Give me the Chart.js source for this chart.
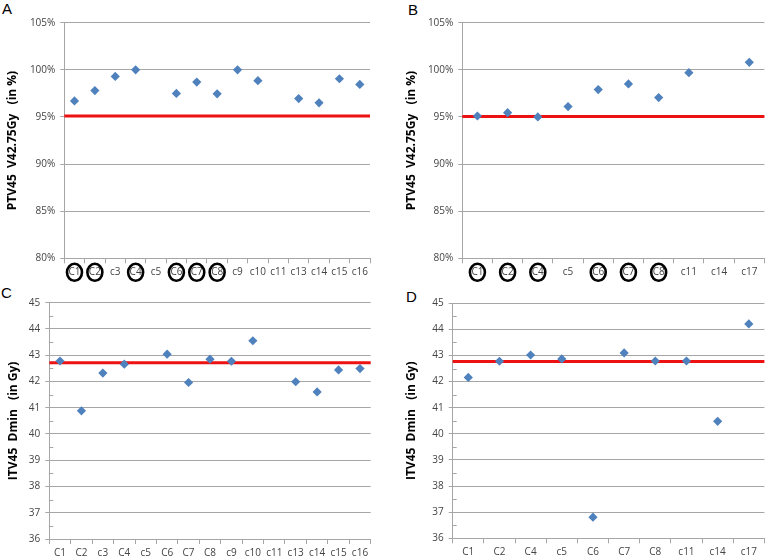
<!DOCTYPE html>
<html>
<head>
<meta charset="utf-8">
<script src="https://cdn.jsdelivr.net/npm/chart.js@4"></script>
<style>
  body { margin: 0; background: #fff; width: 769px; height: 560px; position: relative; overflow: hidden; }
  .panel { position: absolute; }
  .letter { position: absolute; font: 15px "Liberation Sans", Arial, sans-serif; color: #000; line-height: 17px; }
</style>
</head>
<body>
<div class="letter" style="left:2px;top:0px">A</div>
<div class="letter" style="left:408px;top:1px">B</div>
<div class="letter" style="left:1px;top:284px">C</div>
<div class="letter" style="left:406px;top:288px">D</div>
<div class="panel" style="left:0;top:0;width:385px;height:285px"><canvas id="chartA"></canvas></div>
<div class="panel" style="left:385px;top:0;width:384px;height:285px"><canvas id="chartB"></canvas></div>
<div class="panel" style="left:0;top:285px;width:385px;height:275px"><canvas id="chartC"></canvas></div>
<div class="panel" style="left:385px;top:285px;width:384px;height:275px"><canvas id="chartD"></canvas></div>
<script>
// categories (left column: 15 cases, right column: 10 cases)
const casesLeft = ['C1', 'C2', 'c3', 'C4', 'c5', 'C6', 'C7', 'C8', 'c9', 'c10', 'c11', 'c13', 'c14', 'c15', 'c16'];
const casesRight = ['C1', 'C2', 'C4', 'c5', 'C6', 'C7', 'C8', 'c11', 'c14', 'c17'];
const circledCases = ['C1', 'C2', 'C4', 'C6', 'C7', 'C8'];

// A: PTV45 V42.75Gy (%)
const ptvA = [96.7, 97.8, 99.3, 100.0, null, 97.5, 98.7, 97.45, 100.0, 98.85, null, 96.95, 96.5, 99.05, 98.45];
// B: PTV45 V42.75Gy (%)
const ptvB = [95.1, 95.45, 95.0, 96.1, 97.9, 98.5, 97.05, 99.7, null, 100.8];
// C: ITV45 Dmin (Gy)
const itvC = [42.78, 40.88, 42.32, 42.66, null, 43.04, 41.96, 42.85, 42.77, 43.55, null, 41.99, 41.6, 42.44, 42.49];
// D: ITV45 Dmin (Gy)
const itvD = [42.16, 42.78, 43.02, 42.87, 36.81, 43.1, 42.79, 42.79, 40.48, 44.21];

// reference lines
const refA = 95.1, refB = 95.05, refC = 42.71, refD = 42.77;

const BLUE = '#4f81bd';
const RED = '#ee1111';
const GRID = '#a6a6a6';
const TXT = '#444';
const FONT = '"Open Sans", "Noto Sans", sans-serif';

// black rings round the circled case labels
const ringPlugin = {
  id: 'rings',
  afterDraw(chart, args, opts) {
    if (!opts.names) return;
    const xs = chart.scales.x;
    const ctx = chart.ctx;
    ctx.save();
    ctx.strokeStyle = '#000';
    ctx.lineWidth = 2.6;
    xs.ticks.forEach((t, i) => {
      const name = chart.data.labels[i];
      if (!opts.names.includes(name)) return;
      const x = xs.getPixelForTick(i);
      const y = xs.top + 14;
      ctx.beginPath();
      ctx.ellipse(x, y, 7.5, 8.5, 0, 0, Math.PI * 2);
      ctx.stroke();
    });
    ctx.restore();
  }
};

// small inner minor ticks on the y axis
const minorPlugin = {
  id: 'minor',
  afterDraw(chart, args, opts) {
    if (!opts.step) return;
    const ys = chart.scales.y;
    const ctx = chart.ctx;
    ctx.save();
    ctx.strokeStyle = GRID;
    ctx.lineWidth = 1;
    for (let v = ys.min + opts.step; v < ys.max; v += opts.step * 2) {
      const y = Math.round(ys.getPixelForValue(v)) + 0.5;
      ctx.beginPath();
      ctx.moveTo(chart.chartArea.left, y);
      ctx.lineTo(chart.chartArea.left + 4, y);
      ctx.stroke();
    }
    ctx.restore();
  }
};

function makeChart(id, cfg) {
  new Chart(document.getElementById(id), {
    data: {
      labels: cfg.labels,
      datasets: [
        {
          type: 'line', data: cfg.values, showLine: false,
          pointStyle: 'rectRot', pointRadius: 4.6, pointBackgroundColor: BLUE, pointBorderColor: BLUE,
          pointBorderWidth: 0, order: 1
        },
        {
          type: 'line', data: [cfg.ref, cfg.ref], xAxisID: 'x2',
          borderColor: RED, borderWidth: 3, pointRadius: 0, order: 2
        }
      ]
    },
    options: {
      responsive: true,
      maintainAspectRatio: false,
      animation: false,
      layout: { padding: { top: cfg.top, right: cfg.right, left: 0, bottom: 0 } },
      plugins: {
        legend: { display: false },
        tooltip: { enabled: false },
        rings: { names: cfg.circled },
        minor: { step: cfg.minor }
      },
      scales: {
        x: {
          type: 'category',
          offset: true,
          grid: { offset: true, drawOnChartArea: false, drawTicks: true, tickLength: 5, color: GRID },
          border: { color: GRID },
          ticks: { color: TXT, font: { family: FONT, size: 10 }, padding: 3, maxRotation: 0, autoSkip: false },
          afterFit(s) { s.height = cfg.xh; }
        },
        x2: {
          type: 'category', labels: ['a', 'b'], offset: false, display: false
        },
        y: {
          min: cfg.min, max: cfg.max,
          grid: { color: GRID, tickLength: 4 },
          border: { color: GRID },
          ticks: {
            stepSize: cfg.step, color: TXT, padding: 5,
            font: { family: FONT, size: 10 },
            callback: cfg.fmt
          },
          title: {
            display: true, text: cfg.title, color: '#000',
            font: { family: FONT, size: 12, weight: 'bold' },
            padding: { top: cfg.titlePad, bottom: 0 }
          },
          afterFit(s) { s.width = cfg.yw; }
        }
      }
    },
    plugins: [ringPlugin, minorPlugin]
  });
}

const pct = v => v + '%';
const num = v => String(v);

makeChart('chartA', {
  labels: casesLeft, values: ptvA, ref: refA, circled: circledCases,
  min: 80, max: 105, step: 5, fmt: pct, title: 'PTV45  V42.75Gy   (in %)',
  top: 22.7, right: 15, yw: 64.3, xh: 26.7, titlePad: 5
});
makeChart('chartB', {
  labels: casesRight, values: ptvB, ref: refB, circled: circledCases,
  min: 80, max: 105, step: 5, fmt: pct, title: 'PTV45  V42.75Gy   (in %)',
  top: 22.7, right: 2.3, yw: 77.3, xh: 26.7, titlePad: 19
});
makeChart('chartC', {
  labels: casesLeft, values: itvC, ref: refC, circled: null, minor: 0.5,
  min: 36, max: 45, step: 1, fmt: num, title: 'ITV45  Dmin   (in Gy)',
  top: 17.7, right: 14.3, yw: 49.3, xh: 21, titlePad: 6
});
makeChart('chartD', {
  labels: casesRight, values: itvD, ref: refD, circled: null, minor: 0.5,
  min: 36, max: 45, step: 1, fmt: num, title: 'ITV45  Dmin   (in Gy)',
  top: 18.3, right: 2, yw: 67.7, xh: 21.7, titlePad: 19
});
</script>
</body>
</html>
